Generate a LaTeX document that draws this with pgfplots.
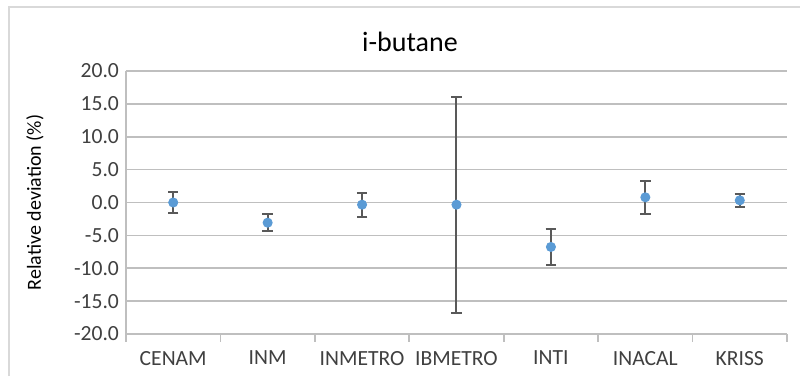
\documentclass[border=0pt]{standalone}
\usepackage{pgfplots}
\pgfplotsset{compat=1.18}
\usepackage{fontspec}
\setmainfont{Carlito}
\definecolor{grid}{HTML}{D9D9D9}
\definecolor{axisc}{HTML}{BFBFBF}
\definecolor{errc}{HTML}{595959}
\definecolor{pt}{HTML}{5B9BD5}
\definecolor{txt}{HTML}{404040}
\begin{document}
\begin{tikzpicture}
\useasboundingbox (0pt,0pt) rectangle (400pt,188pt);
\fill[white] (0pt,0pt) rectangle (400pt,188pt);
\draw[grid, line width=1pt] (4.5pt,0pt) -- (4.5pt,184.5pt) -- (400pt,184.5pt);
\begin{axis}[
  at={(63pt,21pt)}, anchor=south west,
  width=330.5pt, height=131.5pt, scale only axis,
  xmin=-0.5, xmax=6.5, ymin=-20, ymax=20,
  xtick={-0.5,0.5,...,6.5}, xticklabels={},
  xmajorgrids=false,
  xtick style={axisc, line width=0.8pt},
  xtick align=outside, major tick length=4pt,
  extra x ticks={0,...,6},
  extra x tick labels={CENAM,INM,INMETRO,IBMETRO,INTI,INACAL,KRISS},
  extra x tick style={major tick length=0pt, grid=none, xticklabel style={yshift=-5pt}},
  ytick={-20,-15,...,20},
  yticklabel={\pgfmathprintnumber[fixed,fixed zerofill,precision=1]{\tick}},
  /pgf/number format/assume math mode=true,
  ymajorgrids=true, grid style={grid, line width=0.8pt},
  ytick style={draw=none},
  axis x line*=bottom, axis y line*=left,
  x axis line style={axisc, line width=0.8pt, -},
  y axis line style={axisc, line width=0.8pt, -},
  tick label style={font=\fontsize{10.8}{12}\selectfont, text=txt},
  ylabel={Relative deviation (\%)},
  ylabel style={font=\fontsize{10.8}{12}\selectfont, text=black},
  every axis y label/.style={at={(rel axis cs:0,0.5)}, xshift=-45.5pt, rotate=90, anchor=center},
  clip=false,
]
\addplot[only marks, mark=*, mark size=2.3pt, mark options={draw=pt, fill=pt},
  error bars/.cd, y dir=both, y explicit,
  error bar style={errc, line width=1pt},
  error mark options={errc, line width=1pt, mark size=2.6pt, rotate=90}]
  table[x=x, y=y, y error=e] {
x y e
0 0.0 1.6
1 -3.07 1.3
2 -0.33 1.85
3 -0.33 16.45
4 -6.76 2.7
5 0.79 2.55
6 0.33 1.0
};
\end{axis}
\node[font=\fontsize{14}{16}\selectfont] at (205pt,167pt) {i-butane};
\end{tikzpicture}
\end{document}
